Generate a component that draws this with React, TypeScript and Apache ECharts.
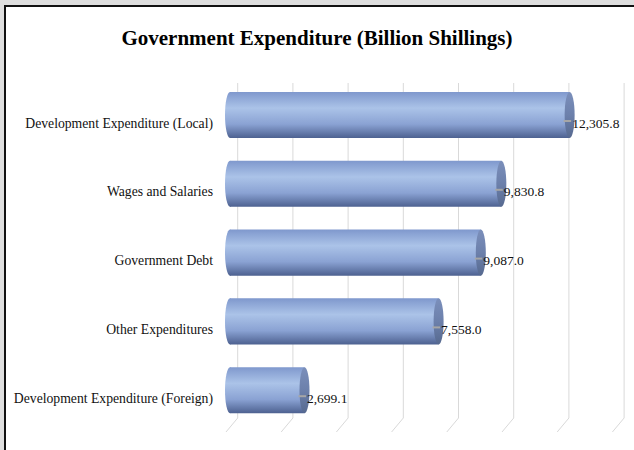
import React, { useEffect, useRef } from "react";
import * as echarts from "echarts";

const categories = [
  "Development Expenditure (Local)",
  "Wages and Salaries",
  "Government Debt",
  "Other Expenditures",
  "Development Expenditure (Foreign)",
];
const values = [12305.8, 9830.8, 9087.0, 7558.0, 2699.1];
const gridTicks = [0, 2000, 4000, 6000, 8000, 10000, 12000, 14000];
const titleText = "Government Expenditure (Billion Shillings)";

const fmt = (v: number) =>
  v.toLocaleString("en-US", { minimumFractionDigits: 1, maximumFractionDigits: 1 });

export default function App() {
  const ref = useRef<HTMLDivElement>(null);
  useEffect(() => {
    if (!ref.current) return;
    const chart = echarts.init(ref.current, undefined, { renderer: "svg" });
    const serif = "'Liberation Serif', 'DejaVu Serif', serif";
    const bodyGrad = new echarts.graphic.LinearGradient(0, 0, 0, 1, [
      { offset: 0, color: "#7f98cd" },
      { offset: 0.35, color: "#abc3e8" },
      { offset: 0.7, color: "#8aa2d3" },
      { offset: 1, color: "#4d6190" },
    ]);
    const capGrad = new echarts.graphic.LinearGradient(0, 0, 0, 1, [
      { offset: 0, color: "#7b8fbb" },
      { offset: 0.5, color: "#6c80ab" },
      { offset: 1, color: "#56698f" },
    ]);
    const depthY = 8;
    chart.setOption({
      animation: false,
      backgroundColor: "#dedede",
      graphic: [
        {
          type: "rect",
          z: -100,
          shape: { x: 5, y: 6, width: 640, height: 460 },
          style: { fill: "#ffffff", stroke: "#111111", lineWidth: 2 },
        },
      ],
      title: {
        text: titleText,
        left: "center",
        top: 22,
        textStyle: { fontFamily: serif, fontWeight: "bold", fontSize: 21, color: "#000" },
      },
      grid: { left: 230, right: 17.6, top: 88.6, bottom: 17.4, containLabel: false },
      xAxis: { type: "value", min: 0, max: 14000, interval: 2000, show: false },
      yAxis: {
        type: "category",
        inverse: true,
        data: categories,
        axisLine: { show: false },
        axisTick: { show: false },
        splitLine: { show: false },
        axisLabel: {
          margin: 17,
          fontFamily: serif,
          fontSize: 13.7,
          color: "#111",
        },
      },
      series: [
        {
          type: "custom",
          z: 1,
          silent: true,
          data: gridTicks.map((t) => [t, 0]),
          renderItem: (params: any, api: any) => {
            const x = api.coord([api.value(0), 0])[0];
            const cs = params.coordSys;
            const top = cs.y - 5.6;
            const bot = cs.y + cs.height - 14.6;
            return {
              type: "group",
              children: [
                {
                  type: "polyline",
                  shape: {
                    points: [
                      [x + 7.7, top],
                      [x + 7.7, bot],
                      [x - 4, bot + 14],
                    ],
                  },
                  style: { stroke: "#d9d9d9", lineWidth: 1, fill: "none" },
                },
              ],
            };
          },
        },
        {
          type: "custom",
          z: 2,
          data: values.map((v, i) => [v, i]),
          renderItem: (params: any, api: any) => {
            const v = api.value(0);
            const c = api.value(1);
            const p0 = api.coord([0, c]);
            const p1 = api.coord([v, c]);
            const band = api.size([0, 1])[1];
            const h = band * 0.67;
            const cc = p0[1];
            const cy = cc - depthY;
            const rx = 5;
            return {
              type: "group",
              children: [
                {
                  type: "ellipse",
                  shape: { cx: p0[0], cy, rx, ry: h / 2 },
                  style: { fill: bodyGrad },
                },
                {
                  type: "rect",
                  shape: { x: p0[0], y: cy - h / 2, width: p1[0] - p0[0], height: h },
                  style: { fill: bodyGrad },
                },
                {
                  type: "ellipse",
                  shape: { cx: p1[0], cy, rx, ry: h / 2 },
                  style: { fill: capGrad },
                },
                {
                  type: "line",
                  shape: { x1: p1[0] - 6, y1: cc - 2, x2: p1[0] + 1.5, y2: cc - 2 },
                  style: { stroke: "#a6a6a6", lineWidth: 2 },
                },
                {
                  type: "text",
                  style: {
                    x: p1[0] + 2.5,
                    y: cc,
                    text: fmt(v),
                    fill: "#111",
                    font: `13.5px ${serif}`,
                    align: "left",
                    verticalAlign: "middle",
                  },
                },
              ],
            };
          },
        },
      ],
    });
    return () => chart.dispose();
  }, []);
  return (
    <div
      ref={ref}
      style={{ position: "fixed", left: 0, top: 0, width: 634, height: 450 }}
    />
  );
}
